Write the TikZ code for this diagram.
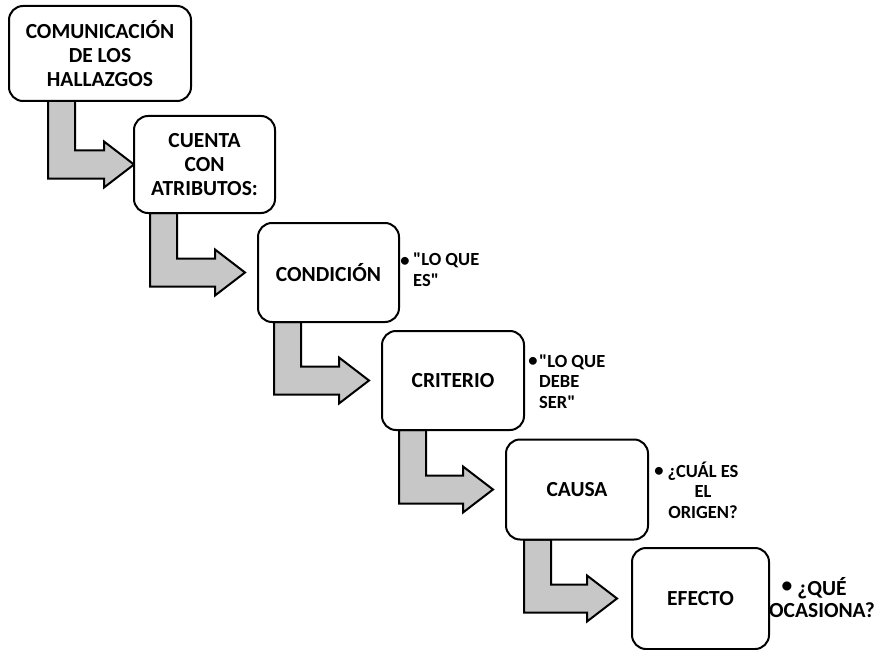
\documentclass[tikz,border=0pt]{standalone}
\usepackage{fontspec}
\setmainfont{Carlito}[Ligatures=TeXOff]
\usetikzlibrary{calc}
\tikzset{
  box/.style={draw, line width=2pt, rounded corners=14pt, fill=white,
    align=center, inner sep=2pt,
    font=\fontsize{21.5}{24}\selectfont\bfseries},
  boxtext/.style={align=center, inner sep=2pt,
    font=\fontsize{21.5}{24}\selectfont\bfseries},
  bentarrow/.style={draw, line width=2pt, fill=black!22, line join=miter},
  note/.style={inner sep=0pt, font=\fontsize{18.5}{20.5}\selectfont\bfseries},
  bignote/.style={inner sep=0pt, font=\fontsize{21.5}{22}\selectfont\bfseries},
  dot/.style={inner sep=0pt, font=\fontsize{18.5}{20}\selectfont\bfseries},
}
% bent block arrow: #1 source box, #2 target box,
% #3 shaft offset from the source's left side, #4 gap before the target
\newcommand\bendarrow[4]{%
  \path[bentarrow] let \p1=(#1.south west), \p2=(#2.west) in
    (\x1+#3, \y1) -- (\x1+#3+27pt, \y1) -- (\x1+#3+27pt, \y2+14pt)
    -- (\x2-#4-30pt, \y2+14pt) -- (\x2-#4-30pt, \y2+23pt)
    -- (\x2-#4, \y2) -- (\x2-#4-30pt, \y2-23pt)
    -- (\x2-#4-30pt, \y2-14pt) -- (\x1+#3, \y2-14pt) -- cycle;}
\begin{document}
\begin{tikzpicture}[x=1pt,y=-1pt]
\useasboundingbox (0,0) rectangle (886,650);

% step boxes (placed first so the arrows can refer to them)
\path
  node[box, minimum width=180pt, minimum height=93pt] (hallazgos) at (100,53.5) {}
  node[box, minimum width=139pt, minimum height=95pt] (atributos) at (204.5,164.5) {}
  node[box, minimum width=139pt, minimum height=97pt] (condicion) at (328.5,272.5) {}
  node[box, minimum width=140pt, minimum height=97pt] (criterio) at (453,380.5) {}
  node[box, minimum width=140pt, minimum height=98pt] (causa) at (577,489.5) {}
  node[box, minimum width=135pt, minimum height=99pt] (efecto) at (700.5,598.5) {};

% connecting bent arrows
\bendarrow{hallazgos}{atributos}{39pt}{0pt}
\bendarrow{atributos}{condicion}{16pt}{13pt}
\bendarrow{condicion}{criterio}{16pt}{13pt}
\bendarrow{criterio}{causa}{17pt}{13pt}
\bendarrow{causa}{efecto}{18pt}{15pt}

% boxes drawn again over the arrow shafts, then their texts
\foreach \b in {hallazgos,atributos,condicion,criterio,causa,efecto}{
  \draw[line width=2pt, rounded corners=14pt, fill=white]
    (\b.south west) rectangle (\b.north east);
}
\node[boxtext] (t1) at (hallazgos) {COMUNICACIÓN\\DE LOS\\HALLAZGOS};
\node[boxtext] (t2) at (atributos) {CUENTA\\CON\\ATRIBUTOS:};
\node[boxtext] (t3) at (condicion) {CONDICIÓN};
\node[boxtext] (t4) at (criterio) {CRITERIO};
\node[boxtext] (t5) at (causa) {CAUSA};
\node[boxtext] (t6) at (efecto) {EFECTO};

% side notes (anchored at the baseline of their last line)
\node[dot] (b1) at (405,262) {•};
\node[note, anchor=base west, align=left] (n1) at (413,286) {"LO QUE\\ES"};
\node[dot] (b2) at (533,362) {•};
\node[note, anchor=base west, align=left] (n2) at (539,408) {"LO QUE\\DEBE\\SER"};
\node[dot] (b3) at (659,472) {•};
\node[note, anchor=base, align=center] (n3) at (703,518) {¿CUÁL ES\\EL\\ORIGEN?};
\node[dot, font=\fontsize{21.5}{22}\selectfont\bfseries] (b4) at (787,587) {•};
\node[bignote, anchor=base, align=center] (n4) at (822,617) {¿QUÉ\\OCASIONA?};
\end{tikzpicture}
\end{document}
